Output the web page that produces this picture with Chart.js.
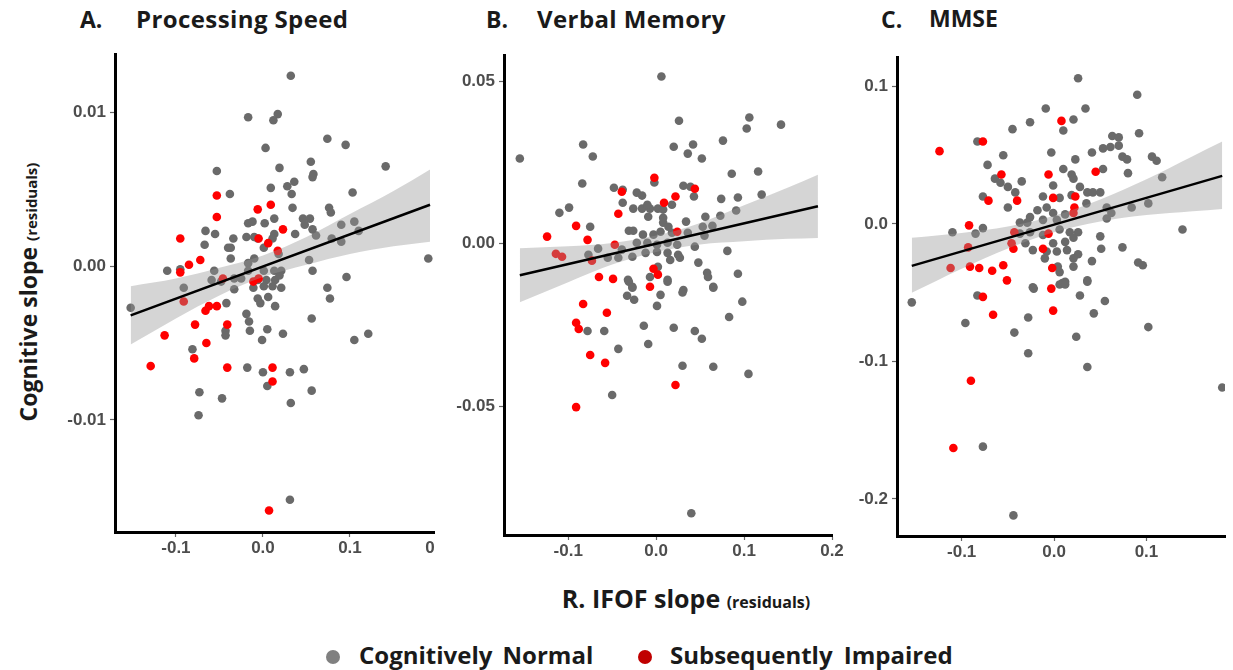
<!DOCTYPE html>
<html>
<head>
<meta charset="utf-8">
<script src="https://cdn.jsdelivr.net/npm/chart.js@4.4.0/dist/chart.umd.min.js"></script>
<style>
body{margin:0;width:1233px;height:670px;background:#fff;position:relative;overflow:hidden;font-family:"Open Sans",sans-serif;color:#1a1a1a}
.clip{position:absolute;top:0;height:670px;overflow:hidden}
.box{position:absolute}
.t{position:absolute;font-weight:bold;white-space:nowrap;line-height:1}
.small{font-size:15px}
.dot{position:absolute;width:14px;height:14px;border-radius:50%}
</style>
</head>
<body>

<div class="t" style="left:80px;top:8px;font-size:23px">A.</div>
<div class="t" style="left:136px;top:7px;font-size:24px;letter-spacing:0.4px">Processing Speed</div>
<div class="t" style="left:486px;top:8px;font-size:23px">B.</div>
<div class="t" style="left:537px;top:7px;font-size:24px;letter-spacing:0.4px">Verbal Memory</div>
<div class="t" style="left:881px;top:8px;font-size:23px">C.</div>
<div class="t" style="left:929px;top:7px;font-size:23px">MMSE</div>

<div class="t" style="left:28px;top:292px;font-size:23px;transform:translate(-50%,-50%) rotate(-90deg)">Cognitive slope <span class="small">(residuals)</span></div>
<div class="t" style="left:686px;top:598px;font-size:25px;transform:translate(-50%,-50%)">R. IFOF slope <span class="small" style="font-size:16px">(residuals)</span></div>

<div class="dot" style="left:326px;top:650px;background:#808080"></div>
<div class="t" style="left:359px;top:643px;font-size:24px;word-spacing:4px">Cognitively Normal</div>
<div class="dot" style="left:638px;top:650px;background:#c00000"></div>
<div class="t" style="left:670px;top:643px;font-size:24px;word-spacing:5px">Subsequently Impaired</div>

<div class="clip" style="left:0;width:435px">
  <div class="box" style="left:40px;top:40px;width:410px;height:530px"><canvas id="chartA"></canvas></div>
</div>
<div class="box" style="left:430px;top:40px;width:420px;height:530px"><canvas id="chartB"></canvas></div>
<div class="box" style="left:820px;top:40px;width:413px;height:530px"><canvas id="chartC"></canvas></div>

<script>
// A. Processing Speed
var psNormal = [[0.032,0.0124],[-0.017,0.0097],[0.017,0.0099],[0.012,0.0095],[0.074,0.0083],[0.095,0.0079],[0.003,0.0077],[-0.053,0.0062],[0.019,0.0064],[0.055,0.0068],[0.058,0.0060],[0.057,0.0058],[0.141,0.0065],[-0.038,0.0047],[0.009,0.0051],[0.028,0.0052],[0.036,0.0055],[0.033,0.0047],[0.103,0.0048],[0.034,0.0038],[0.076,0.0038],[0.078,0.0035],[-0.017,0.0028],[-0.012,0.0029],[0.002,0.0028],[0.013,0.0031],[0.046,0.0031],[0.054,0.0031],[0.048,0.0027],[0.057,0.0024],[-0.066,0.0023],[-0.055,0.0021],[0.037,0.0021],[0.090,0.0027],[0.105,0.0029],[0.110,0.0023],[0.061,0.0020],[-0.019,0.0019],[-0.010,0.0019],[-0.006,0.0018],[-0.034,0.0018],[-0.067,0.0014],[0.013,0.0021],[0.011,0.0018],[-0.040,0.0012],[-0.037,0.0012],[0.001,0.0012],[0.079,0.0018],[0.090,0.0016],[-0.037,0.0005],[-0.010,0.0005],[-0.017,0.0002],[0.018,0.0008],[0.053,0.0004],[0.057,-0.0003],[0.096,-0.0007],[0.190,0.0005],[-0.110,-0.0003],[-0.095,-0.0002],[-0.056,-0.0003],[-0.059,-0.0009],[-0.048,-0.0010],[-0.033,-0.0008],[-0.025,-0.0008],[-0.017,-0.0003],[0.001,-0.0003],[0.013,-0.0003],[0.021,-0.0003],[-0.006,-0.0009],[0.004,-0.0009],[0.014,-0.0009],[0.019,-0.0006],[-0.091,-0.0014],[0.074,-0.0014],
  [-0.152,-0.0027],[-0.042,-0.0024],[-0.033,-0.0015],[-0.011,-0.0014],[0.001,-0.0013],[0.011,-0.0013],[0.021,-0.0014],[-0.006,-0.0021],[-0.003,-0.0024],[0.006,-0.0020],[0.014,-0.0026],[0.077,-0.0021],[-0.019,-0.0031],[-0.016,-0.0036],[0.056,-0.0034],[-0.043,-0.0042],[-0.043,-0.0045],[-0.015,-0.0042],[0.005,-0.0041],[-0.001,-0.0048],[0.023,-0.0044],[0.105,-0.0048],[0.121,-0.0044],[-0.081,-0.0054],[-0.018,-0.0066],[0.000,-0.0069],[0.031,-0.0069],[0.047,-0.0067],[0.005,-0.0078],[0.056,-0.0081],[-0.073,-0.0082],[-0.047,-0.0086],[0.032,-0.0089],[-0.074,-0.0097],[0.031,-0.0152]];
var psImpaired = [[-0.053,0.0046],[-0.053,0.0032],[-0.006,0.0037],[0.009,0.0040],[0.023,0.0024],[-0.095,0.0018],[-0.005,0.0018],[0.006,0.0015],[0.017,0.0010],[-0.072,0.0004],[-0.085,0.0001],[-0.095,-0.0004],[-0.046,-0.0008],[-0.005,-0.0008],[-0.011,-0.0010],[-0.091,-0.0023],[-0.066,-0.0029],[-0.062,-0.0026],[-0.053,-0.0026],[-0.078,-0.0038],[-0.041,-0.0038],[-0.113,-0.0045],[-0.065,-0.0050],[-0.079,-0.0060],[-0.129,-0.0065],[-0.041,-0.0066],[0.011,-0.0066],[0.011,-0.0075],[0.007,-0.0159]];
var psFitX = [-0.152, 0.192];
var psFitY = [-0.0032, 0.0040];
var psBandX = [-0.152,-0.1,-0.05,0,0.05,0.1,0.15,0.192];
var psBandUp = [-0.0013,-0.0008,-0.0001,0.0007,0.0019,0.0034,0.0049,0.0063];
var psBandLo = [-0.0051,-0.0034,-0.0019,-0.0007,0.0001,0.0008,0.0013,0.0016];

// B. Verbal Memory
var vmNormal = [[0.006,0.0514],[-0.155,0.0262],[0.026,0.0378],[0.106,0.0388],[0.103,0.0354],[0.142,0.0366],[-0.083,0.0305],[-0.072,0.0268],[0.020,0.0298],[0.042,0.0305],[0.036,0.0277],[0.052,0.0262],[0.076,0.0317],[0.086,0.0215],[0.116,0.0222],[-0.084,0.0185],[-0.002,0.0188],[-0.048,0.0172],[-0.038,0.0166],[-0.022,0.0157],[-0.016,0.0148],[0.031,0.0178],[0.039,0.0175],[0.043,0.0145],[0.074,0.0138],[0.093,0.0142],[0.120,0.0151],[-0.110,0.0095],[-0.099,0.0111],[-0.038,0.0126],[-0.026,0.0108],[-0.016,0.0108],[-0.007,0.0108],[0.002,0.0108],[-0.010,0.0120],[0.008,0.0105],[0.018,0.0120],[-0.009,0.0083],[0.008,0.0080],[0.091,0.0102],[0.073,0.0086],[0.056,0.0083],[-0.075,0.0052],[-0.031,0.0040],[-0.026,0.0040],[0.008,0.0065],[0.014,0.0052],[0.034,0.0068],[0.053,0.0052],[0.064,0.0055],[-0.015,0.0028],[-0.003,0.0028],[0.005,0.0037],[0.018,0.0034],[0.036,0.0034],[0.055,0.0025],[-0.066,-0.0015],[-0.039,-0.0018],[-0.022,0.0003],[-0.010,0.0003],[0.001,-0.0003],[0.013,0.0003],[0.024,-0.0003],[0.044,-0.0009],[-0.077,-0.0034],[-0.055,-0.0043],[-0.043,-0.0043],[-0.027,-0.0040],[-0.012,-0.0028],[0.001,-0.0025],[0.013,-0.0028],[0.025,-0.0034],[0.016,-0.0050],[0.027,-0.0043],[0.081,-0.0022],[0.048,-0.0058],[0.058,-0.0089],[0.059,-0.0102],[0.093,-0.0092],[-0.007,-0.0102],[0.002,-0.0071],[0.013,-0.0111],[-0.032,-0.0111],[-0.027,-0.0132],[0.065,-0.0132],[0.031,-0.0142],
  [-0.031,-0.0117],[0.013,-0.0117],[-0.027,-0.0135],[-0.033,-0.0160],[-0.025,-0.0172],[0.005,-0.0157],[0.001,-0.0191],[0.030,-0.0150],[0.065,-0.0135],[0.098,-0.0178],[0.083,-0.0225],[-0.078,-0.0268],[-0.059,-0.0268],[-0.014,-0.0252],[0.020,-0.0258],[0.044,-0.0268],[0.052,-0.0292],[-0.009,-0.0308],[-0.043,-0.0323],[0.030,-0.0375],[0.065,-0.0378],[0.105,-0.0400],[-0.050,-0.0465],[0.040,-0.0828]];
var vmImpaired = [[-0.002,0.0203],[0.044,0.0169],[-0.039,0.0160],[0.022,0.0145],[0.009,0.0126],[-0.043,0.0092],[-0.091,0.0055],[-0.124,0.0022],[-0.078,0.0012],[0.024,0.0037],[-0.047,-0.0003],[-0.114,-0.0031],[-0.107,-0.0040],[-0.073,-0.0052],[-0.003,-0.0077],[0.002,-0.0095],[-0.065,-0.0102],[-0.049,-0.0108],[-0.007,-0.0132],[-0.083,-0.0185],[-0.056,-0.0212],[-0.091,-0.0243],[-0.088,-0.0262],[-0.075,-0.0342],[-0.058,-0.0366],[0.022,-0.0434],[-0.091,-0.0502]];
var vmFitX = [-0.155, 0.184];
var vmFitY = [-0.0097, 0.0115];
var vmBandX = [-0.155,-0.1,-0.05,0,0.05,0.1,0.15,0.184];
var vmBandUp = [-0.0014,-0.0008,0.0002,0.0025,0.0064,0.0118,0.0173,0.0212];
var vmBandLo = [-0.0180,-0.0118,-0.0064,-0.0025,-0.0002,0.0008,0.0015,0.0018];

// C. MMSE
var mmNormal = [[0.026,0.106],[0.090,0.094],[-0.009,0.084],[0.034,0.084],[-0.026,0.074],[0.021,0.076],[0.010,0.068],[-0.045,0.069],[-0.083,0.060],[0.092,0.066],[0.063,0.064],[0.070,0.063],[0.053,0.055],[0.061,0.056],[0.070,0.057],[-0.055,0.050],[-0.003,0.052],[0.041,0.052],[0.074,0.049],[0.079,0.047],[0.106,0.049],[0.111,0.046],[-0.072,0.043],[0.023,0.047],[0.010,0.040],[0.053,0.040],[-0.064,0.033],[-0.058,0.030],[-0.035,0.031],[0.019,0.036],[0.021,0.033],[0.080,0.037],[0.117,0.034],[-0.050,0.027],[-0.042,0.023],[-0.001,0.028],[0.028,0.027],[0.036,0.023],[0.042,0.023],[0.050,0.023],[-0.077,0.020],[-0.012,0.020],[0.006,0.019],[0.019,0.021],[0.035,0.015],[-0.050,0.012],[0.057,0.012],[0.062,0.008],[0.057,0.004],[0.084,0.012],[0.102,0.015],[-0.018,0.010],[-0.008,0.012],[-0.001,0.008],[-0.026,0.005],[0.012,0.007],[-0.037,0.001],[-0.029,0.001],[-0.012,0.003],[0.003,0.003],[-0.110,-0.006],[-0.085,-0.007],[-0.077,-0.003],[0.139,-0.004],[-0.037,-0.007],[-0.026,-0.006],[-0.012,-0.008],[0.006,-0.004],[0.017,-0.006],[0.026,-0.006],[0.050,-0.009],[-0.031,-0.014],[-0.023,-0.019],[-0.001,-0.014],[0.012,-0.013],[0.021,-0.010],[-0.008,-0.020],[0.003,-0.020],[0.014,-0.019],[0.026,-0.022],[0.051,-0.018],[0.074,-0.017],[-0.010,-0.025],[0.021,-0.025],[0.041,-0.027],[0.004,-0.031],[0.006,-0.035],[0.021,-0.031],[0.091,-0.028],[0.096,-0.030],[0.036,-0.041],[0.009,-0.043],[0.012,-0.042],[-0.023,-0.046],
  [-0.154,-0.057],[-0.083,-0.052],[-0.022,-0.047],[0.006,-0.044],[0.012,-0.044],[0.036,-0.042],[0.028,-0.052],[0.055,-0.056],[0.043,-0.065],[-0.028,-0.068],[-0.096,-0.072],[-0.043,-0.079],[0.024,-0.082],[0.102,-0.075],[-0.028,-0.094],[0.036,-0.104],[0.182,-0.119],[-0.077,-0.162],[-0.044,-0.212]];
var mmImpaired = [[0.008,0.075],[-0.077,0.060],[-0.124,0.053],[-0.057,0.036],[-0.006,0.036],[0.045,0.038],[-0.071,0.017],[-0.040,0.017],[-0.001,0.019],[0.023,0.020],[0.022,0.012],[0.021,0.008],[-0.092,-0.001],[-0.043,-0.006],[-0.006,-0.007],[-0.046,-0.014],[-0.044,-0.018],[-0.093,-0.017],[-0.012,-0.018],[-0.112,-0.032],[-0.091,-0.031],[-0.081,-0.032],[-0.067,-0.034],[-0.055,-0.030],[-0.002,-0.032],[-0.051,-0.041],[-0.003,-0.047],[-0.077,-0.053],[-0.066,-0.066],[-0.001,-0.063],[-0.090,-0.114],[-0.109,-0.163]];
var mmFitX = [-0.154, 0.182];
var mmFitY = [-0.0305, 0.0350];
var mmBandX = [-0.154,-0.1,-0.05,0,0.05,0.1,0.15,0.182];
var mmBandUp = [-0.010,-0.0065,-0.0018,0.006,0.0178,0.0325,0.0493,0.060];
var mmBandLo = [-0.050,-0.0325,-0.0178,-0.006,0.0018,0.0065,0.0093,0.011];

var tickFont = {family: 'Liberation Sans, Arial, sans-serif', size: 17, weight: 'bold'};

function toPts(arr) {
    return arr.map(function (p) { return {x: p[0], y: p[1]}; });
}
function zip(xs, ys) {
    return xs.map(function (x, i) { return {x: x, y: ys[i]}; });
}

function makePanel(id, normal, impaired, fitX, fitY, bandX, bandUp, bandLo, o) {
    var data = {
        datasets: [
            {type: 'line', data: zip(fitX, fitY), borderColor: '#000', borderWidth: 2.5, pointRadius: 0, fill: false, order: 0},
            {type: 'line', data: zip(bandX, bandUp), borderWidth: 0, borderColor: 'rgba(0,0,0,0)', pointRadius: 0, fill: false, cubicInterpolationMode: 'monotone', order: 1},
            {type: 'line', data: zip(bandX, bandLo), borderWidth: 0, borderColor: 'rgba(0,0,0,0)', pointRadius: 0, fill: '-1', backgroundColor: 'rgba(150,150,150,0.4)', cubicInterpolationMode: 'monotone', order: 1},
            {data: toPts(impaired), backgroundColor: '#ff0000', borderWidth: 0, pointRadius: 4.3, order: 2},
            {data: toPts(normal), backgroundColor: '#6a6a6a', borderWidth: 0, pointRadius: 4.3, order: 3}
        ]
    };
    const config = {
        type: 'scatter',
        data: data,
        options: {
            animation: false,
            responsive: true,
            maintainAspectRatio: false,
            layout: {padding: {top: o.padTop, right: o.padRight, left: 0, bottom: 0}},
            plugins: {legend: {display: false}, tooltip: {enabled: false}},
            scales: {
                x: {
                    type: 'linear', min: o.xMin, max: o.xMax,
                    afterBuildTicks: function (ax) { ax.ticks = o.xTicks.map(function (v) { return {value: v}; }); },
                    afterFit: function (ax) { ax.height = o.xH; },
                    ticks: {font: tickFont, color: '#4d4d4d', padding: 1, maxRotation: 0,
                        callback: function (v, i) { return o.xLabels[i]; }},
                    grid: {drawOnChartArea: false, tickLength: 5, tickColor: '#666', tickWidth: 1.2},
                    border: {display: true, color: '#000', width: 3}
                },
                y: {
                    type: 'linear', min: o.yMin, max: o.yMax,
                    afterBuildTicks: function (ax) { ax.ticks = o.yTicks.map(function (v) { return {value: v}; }); },
                    afterFit: function (ax) { ax.width = o.yW; },
                    ticks: {font: tickFont, color: '#4d4d4d', padding: 4,
                        callback: function (v, i) { return o.yLabels[i]; }},
                    grid: {drawOnChartArea: false, tickLength: 5, tickColor: '#666', tickWidth: 1.2},
                    border: {display: true, color: '#000', width: 3}
                }
            }
        }
    };
    return new Chart(document.getElementById(id), config);
}

makePanel('chartA', psNormal, psImpaired, psFitX, psFitY, psBandX, psBandUp, psBandLo, {
    xMin: -0.17, xMax: 0.2, yMin: -0.0173, yMax: 0.0138,
    xTicks: [-0.1, 0, 0.1, 0.2], xLabels: ['-0.1', '0.0', '0.1', '0.2'],
    yTicks: [-0.01, 0, 0.01], yLabels: ['-0.01', '0.00', '0.01'],
    padTop: 12, padRight: 13, xH: 38, yW: 75
});
makePanel('chartB', vmNormal, vmImpaired, vmFitX, vmFitY, vmBandX, vmBandUp, vmBandLo, {
    xMin: -0.173, xMax: 0.2, yMin: -0.0895, yMax: 0.058,
    xTicks: [-0.1, 0, 0.1, 0.2], xLabels: ['-0.1', '0.0', '0.1', '0.2'],
    yTicks: [-0.05, 0, 0.05], yLabels: ['-0.05', '0.00', '0.05'],
    padTop: 15, padRight: 18, xH: 35, yW: 74
});
makePanel('chartC', mmNormal, mmImpaired, mmFitX, mmFitY, mmBandX, mmBandUp, mmBandLo, {
    xMin: -0.17, xMax: 0.185, yMin: -0.227, yMax: 0.1215,
    xTicks: [-0.1, 0, 0.1], xLabels: ['-0.1', '0.0', '0.1'],
    yTicks: [-0.2, -0.1, 0, 0.1], yLabels: ['-0.2', '-0.1', '0.0', '0.1'],
    padTop: 17, padRight: 8, xH: 34, yW: 77
});
</script>
</body>
</html>
